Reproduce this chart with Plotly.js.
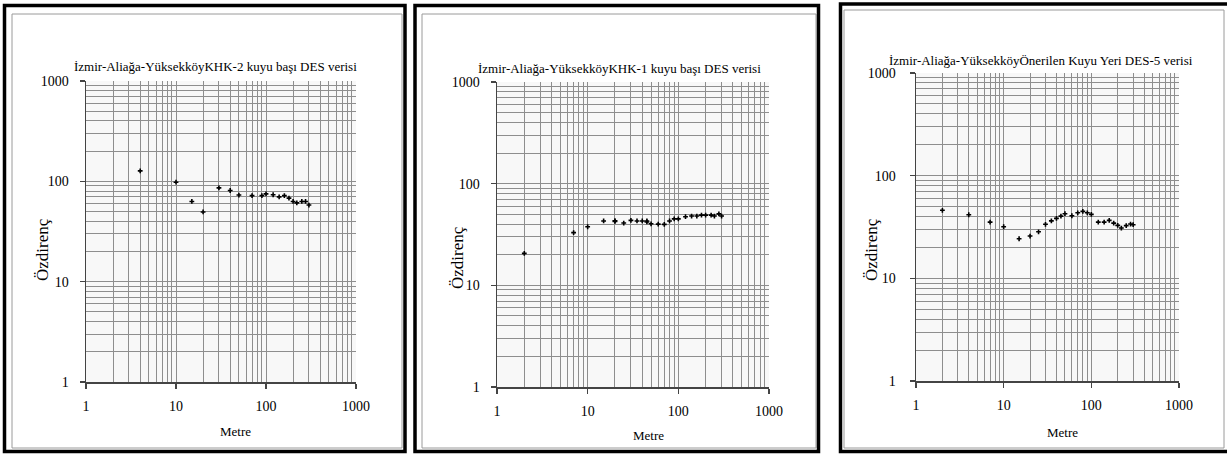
<!DOCTYPE html>
<html>
<head>
<meta charset="utf-8">
<script src="https://cdn.plot.ly/plotly-3.0.1.min.js"></script>
<style>html,body{margin:0;padding:0;background:#fff;}#chart{width:1227px;height:454px;}</style>
</head>
<body>
<div id="chart"></div>
<script>
// ---- data ----
const titles = [
  "İzmir-Aliağa-YüksekköyKHK-2 kuyu başı DES verisi",
  "İzmir-Aliağa-YüksekköyKHK-1 kuyu başı DES verisi",
  "İzmir-Aliağa-YüksekköyÖnerilen Kuyu Yeri DES-5 verisi"
];
const xTitle = "Metre";
const yTitle = "Özdirenç";
const tickVals = [1, 10, 100, 1000];
const tickText = ["1", "10", "100", "1000"];

const khk2X = [4, 10, 15, 20, 30, 40, 50, 70, 90, 100, 120, 140, 160, 180, 200, 220, 250, 275, 300];
const khk2Y = [127, 98, 63, 49.5, 86, 81, 73, 72, 72, 75, 73.5, 70, 72, 68, 63, 61, 63, 63, 58];

const khk1X = [2, 7, 10, 15, 20, 20, 25, 30, 35, 40, 45, 45, 50, 60, 70, 80, 90, 100, 120, 140, 160, 180, 200, 230, 250, 280, 300];
const khk1Y = [20.6, 33, 37.7, 43, 42.6, 43.2, 41, 43.5, 43, 43, 43, 42, 40.3, 40, 39.8, 43, 45, 45, 47.3, 48, 48, 49, 49, 49, 48, 50.5, 48];

const des5X = [2, 4, 7, 10, 15, 20, 25, 30, 35, 40, 45, 50, 60, 70, 80, 90, 100, 120, 140, 160, 180, 200, 220, 250, 280, 300];
const des5Y = [46, 41.6, 35.3, 31.8, 24.3, 25.8, 28.4, 33.6, 36.3, 38.4, 40.4, 42.6, 40.7, 43.5, 44.9, 43.5, 42, 35.3, 35.3, 36.7, 34.5, 32.8, 30.9, 32.6, 33.8, 33.3];

// ---- layout geometry (pixels) ----
const W = 1227, H = 454;
const panels = [
  {plot:[86, 356, 81, 382], title:[215, 66], xt:[235, 431], yt:[43, 250], ystand:8,
   outer:[4.5, 405, 5.5, 451.5], inner:[12, 402, 14, 448]},
  {plot:[497, 769, 82, 387], title:[619, 69], xt:[648, 435], yt:[457, 258], ystand:8,
   outer:[415, 818.5, 5.5, 451.5], inner:[422, 816, 14, 448]},
  {plot:[916, 1179, 73, 381], title:[1041, 60], xt:[1062, 432], yt:[872, 250], ystand:11,
   outer:[840.5, 1229, 4, 451.5], inner:[844, 1224, 10, 448]}
];
const series = [[khk2X, khk2Y], [khk1X, khk1Y], [des5X, des5Y]];

const font = "Liberation Serif";
const data = [], shapes = [], annotations = [];
const layout = {
  width: W, height: H,
  margin: {l:0, r:0, t:0, b:0},
  paper_bgcolor: "#ffffff",
  showlegend: false,
  font: {family: font, size: 13, color: "#000"}
};

const px = x => x / W;
const py = y => 1 - y / H;

panels.forEach((p, i) => {
  const n = i === 0 ? "" : String(i + 1);
  data.push({
    type: "scatter", mode: "markers",
    x: series[i][0], y: series[i][1],
    xaxis: "x" + n, yaxis: "y" + n,
    marker: {symbol: "cross", size: 4, color: "#000"}
  });
  const common = {
    type: "log", range: [0, 3],
    tickmode: "array", tickvals: tickVals, ticktext: tickText,
    showgrid: true, gridcolor: "#8e8e8e", gridwidth: 1,
    minor: {showgrid: true, gridcolor: "#8e8e8e", gridwidth: 1, dtick: "D1", ticks: ""},
    showline: true, linecolor: "#444", linewidth: 1.5,
    ticks: "outside", ticklen: 5, tickcolor: "#444", tickwidth: 1.5,
    tickfont: {family: font, size: 14, color: "#000"},
    zeroline: false, fixedrange: true
  };
  layout["xaxis" + n] = Object.assign({}, common, {
    domain: [px(p.plot[0]), px(p.plot[1])],
    anchor: "y" + n, ticklabelstandoff: 6
  });
  layout["yaxis" + n] = Object.assign({}, common, {
    domain: [py(p.plot[3]), py(p.plot[2])],
    anchor: "x" + n, ticklabelstandoff: p.ystand
  });
  shapes.push({type:"rect", xref:"paper", yref:"paper", layer:"below",
    x0:px(p.plot[0]), x1:px(p.plot[1]), y0:py(p.plot[3]), y1:py(p.plot[2]),
    fillcolor:"#f8f8f8", line:{width:0}});
  shapes.push({type:"rect", xref:"paper", yref:"paper",
    x0:px(p.inner[0]), x1:px(p.inner[1]), y0:py(p.inner[3]), y1:py(p.inner[2]),
    line:{color:"#9a9a9a", width:1}});
  shapes.push({type:"rect", xref:"paper", yref:"paper",
    x0:px(p.outer[0]), x1:px(p.outer[1]), y0:py(p.outer[3]), y1:py(p.outer[2]),
    line:{color:"#000", width:3.5}});
  annotations.push({xref:"paper", yref:"paper", x:px(p.title[0]), y:py(p.title[1]),
    text: titles[i], showarrow:false, xanchor:"center", yanchor:"middle",
    font:{family:font, size:13, color:"#000"}});
  annotations.push({xref:"paper", yref:"paper", x:px(p.xt[0]), y:py(p.xt[1]),
    text: xTitle, showarrow:false, xanchor:"center", yanchor:"middle",
    font:{family:font, size:13, color:"#000"}});
  annotations.push({xref:"paper", yref:"paper", x:px(p.yt[0]), y:py(p.yt[1]),
    text: yTitle, showarrow:false, xanchor:"center", yanchor:"middle", textangle:-90,
    font:{family:font, size:17, color:"#000"}});
});
layout.shapes = shapes;
layout.annotations = annotations;

Plotly.newPlot("chart", data, layout, {displayModeBar:false, staticPlot:true});
</script>
</body>
</html>
